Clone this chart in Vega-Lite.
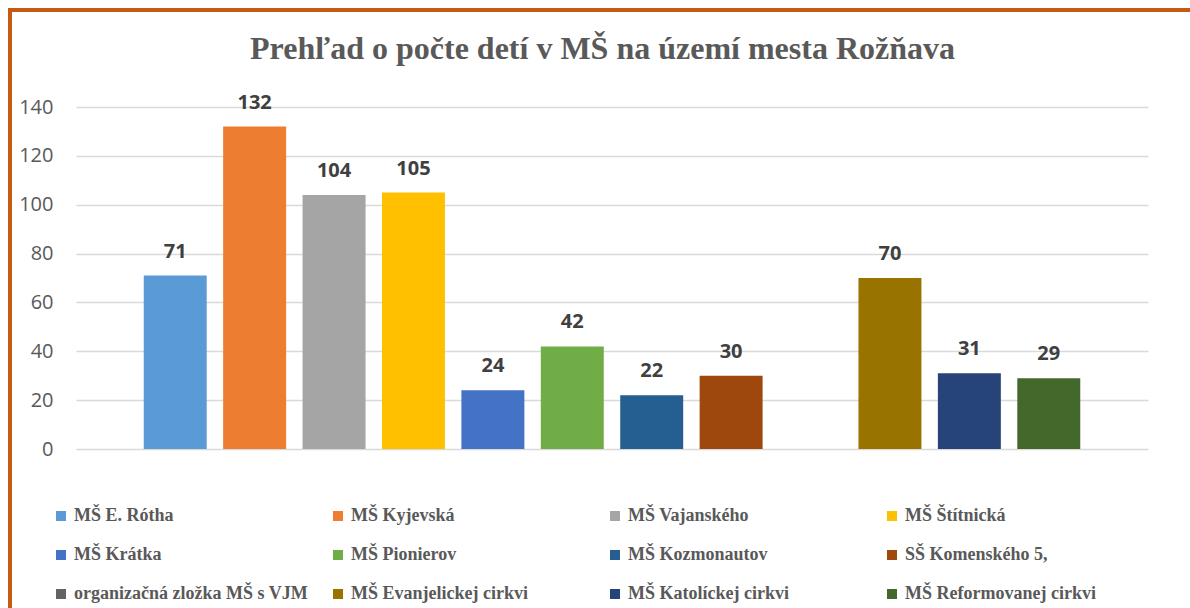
{
  "$schema": "https://vega.github.io/schema/vega-lite/v6.json",
  "width": 1190,
  "height": 608,
  "autosize": {"type": "fit", "contains": "padding"},
  "padding": {"left": 10, "top": 10, "right": -5, "bottom": -5},
  "background": "white",
  "title": {
    "text": "Prehľad o počte detí v MŠ na území mesta Rožňava",
    "font": "Liberation Serif",
    "fontSize": 32,
    "fontWeight": "bold",
    "color": "#595959",
    "anchor": "middle",
    "offset": -56
  },
  "config": {
    "view": {"stroke": "#C55A11", "strokeWidth": 4}
  },
  "data": {
    "values": [
      {"skola": "MŠ E. Rótha", "pocet": 71},
      {"skola": "MŠ Kyjevská", "pocet": 132},
      {"skola": "MŠ Vajanského", "pocet": 104},
      {"skola": "MŠ Štítnická", "pocet": 105},
      {"skola": "MŠ Krátka", "pocet": 24},
      {"skola": "MŠ Pionierov", "pocet": 42},
      {"skola": "MŠ Kozmonautov", "pocet": 22},
      {"skola": "SŠ Komenského 5,", "pocet": 30},
      {"skola": "MŠ Evanjelickej cirkvi", "pocet": 70},
      {"skola": "MŠ Katolíckej cirkvi", "pocet": 31},
      {"skola": "MŠ Reformovanej cirkvi", "pocet": 29}
    ]
  },
  "encoding": {
    "x": {
      "field": "skola",
      "type": "nominal",
      "sort": null,
      "scale": {
        "domain": ["MŠ E. Rótha", "MŠ Kyjevská", "MŠ Vajanského", "MŠ Štítnická", "MŠ Krátka", "MŠ Pionierov", "MŠ Kozmonautov", "SŠ Komenského 5,", "organizačná zložka MŠ s VJM", "MŠ Evanjelickej cirkvi", "MŠ Katolíckej cirkvi", "MŠ Reformovanej cirkvi"],
        "range": [66, 1138],
        "paddingInner": 0.207,
        "paddingOuter": 0.853
      },
      "axis": null
    },
    "y": {
      "field": "pocet",
      "type": "quantitative",
      "scale": {"domain": [0, 140], "nice": false, "range": [439, 97]},
      "axis": {
        "values": [0, 20, 40, 60, 80, 100, 120, 140],
        "domain": false,
        "ticks": false,
        "title": null,
        "labelFont": "Open Sans",
        "labelFontSize": 20,
        "labelColor": "#595959",
        "labelPadding": 23,
        "offset": -66,
        "gridColor": "#D9D9D9",
        "gridWidth": 1.5
      }
    }
  },
  "layer": [
    {
      "mark": {"type": "bar"},
      "encoding": {
        "color": {
          "field": "skola",
          "type": "nominal",
          "scale": {
            "domain": ["MŠ E. Rótha", "MŠ Kyjevská", "MŠ Vajanského", "MŠ Štítnická", "MŠ Krátka", "MŠ Pionierov", "MŠ Kozmonautov", "SŠ Komenského 5,", "organizačná zložka MŠ s VJM", "MŠ Evanjelickej cirkvi", "MŠ Katolíckej cirkvi", "MŠ Reformovanej cirkvi"],
            "range": ["#5B9BD5", "#ED7D31", "#A5A5A5", "#FFC000", "#4472C4", "#70AD47", "#255E91", "#9E480E", "#636363", "#997300", "#264478", "#43682B"]
          },
          "legend": {
            "orient": "none",
            "legendX": 42,
            "legendY": 497,
            "direction": "horizontal",
            "columns": 4,
            "gridAlign": "all",
            "columnPadding": 21,
            "rowPadding": 21,
            "padding": 0,
            "title": null,
            "symbolType": "square",
            "symbolSize": 100,
            "symbolStrokeWidth": 0,
            "labelOffset": 4,
            "labelFont": "Liberation Serif",
            "labelFontSize": 18,
            "labelFontWeight": "bold",
            "labelColor": "#595959",
            "labelLimit": 400
          }
        }
      }
    },
    {
      "mark": {
        "type": "text",
        "dy": -18,
        "baseline": "alphabetic",
        "font": "Open Sans",
        "fontSize": 20,
        "fontWeight": "bold",
        "color": "#404040"
      },
      "encoding": {
        "text": {"field": "pocet", "type": "quantitative"}
      }
    }
  ]
}
